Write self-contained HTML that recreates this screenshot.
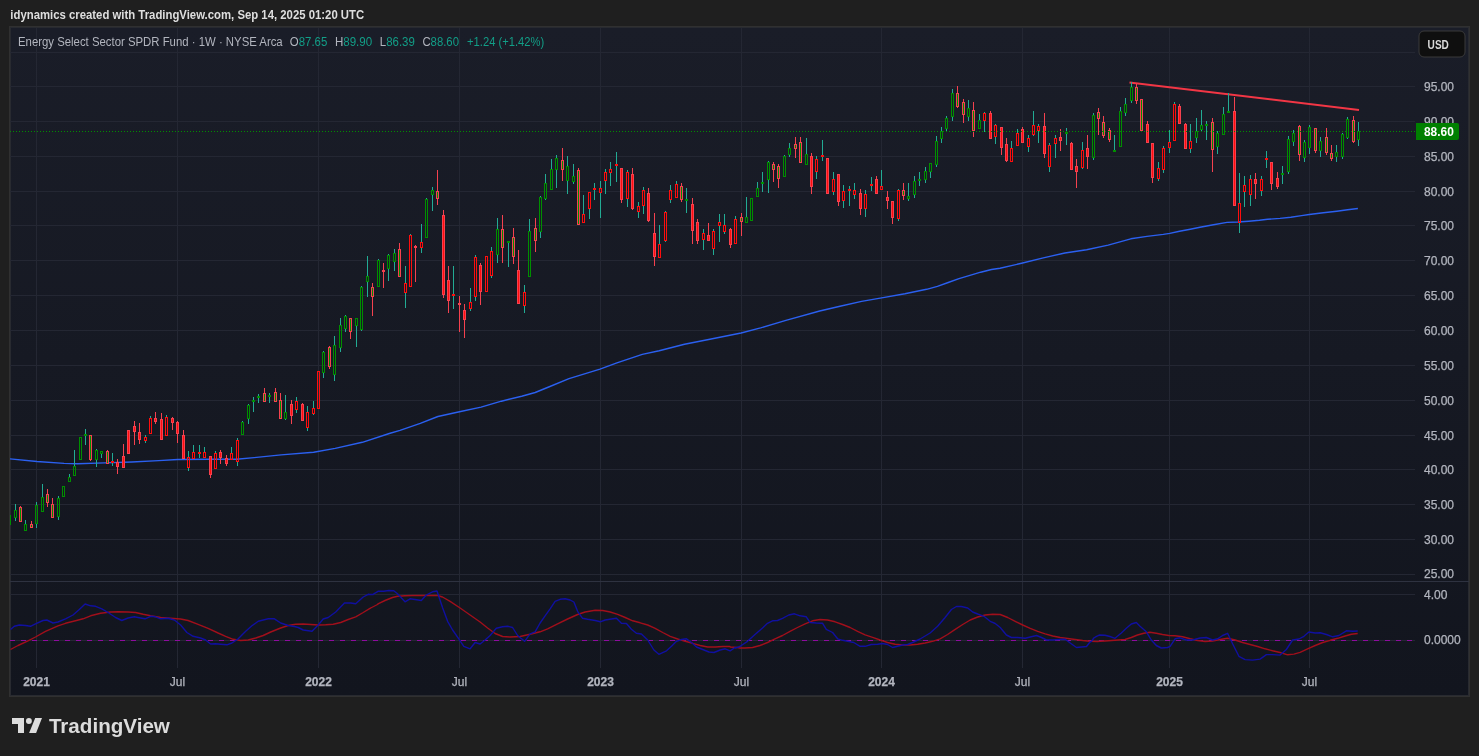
<!DOCTYPE html>
<html><head><meta charset="utf-8"><style>
html,body{margin:0;padding:0;}
body{width:1479px;height:756px;background:#1f1f1f;position:relative;overflow:hidden;font-family:"Liberation Sans",Arial,sans-serif;}
svg{position:absolute;left:0;top:0;will-change:transform;}
</style></head><body>
<svg width="1479" height="756" viewBox="0 0 1479 756" font-family="Liberation Sans, Arial, sans-serif">
<defs><linearGradient id="bgg" x1="0" y1="0" x2="0" y2="1"><stop offset="0" stop-color="#1a1d28"/><stop offset="1" stop-color="#12151e"/></linearGradient></defs>
<rect x="9" y="26" width="1461" height="671" fill="#303030"/>
<rect x="10" y="28" width="1458" height="667" fill="url(#bgg)"/>
<rect x="10" y="27" width="1458" height="1" fill="#282a30"/>
<rect x="10" y="695" width="1458" height="1" fill="#282a30"/>
<rect x="1468" y="27" width="1" height="669" fill="#282a30"/>
<rect x="10" y="27" width="1" height="669" fill="#282a30"/>
<defs><clipPath id="cp"><rect x="10" y="28" width="1405" height="553"/></clipPath>
<clipPath id="cp2"><rect x="10" y="582" width="1405" height="86"/></clipPath></defs>
<g clip-path="url(#cp)">
<line x1="36.5" y1="27" x2="36.5" y2="581" stroke="#242733"/>
<line x1="177.5" y1="27" x2="177.5" y2="581" stroke="#242733"/>
<line x1="318.5" y1="27" x2="318.5" y2="581" stroke="#242733"/>
<line x1="459.5" y1="27" x2="459.5" y2="581" stroke="#242733"/>
<line x1="600.5" y1="27" x2="600.5" y2="581" stroke="#242733"/>
<line x1="741.5" y1="27" x2="741.5" y2="581" stroke="#242733"/>
<line x1="881.5" y1="27" x2="881.5" y2="581" stroke="#242733"/>
<line x1="1022.5" y1="27" x2="1022.5" y2="581" stroke="#242733"/>
<line x1="1169.5" y1="27" x2="1169.5" y2="581" stroke="#242733"/>
<line x1="1309.5" y1="27" x2="1309.5" y2="581" stroke="#242733"/>
<line x1="10" y1="574.5" x2="1415" y2="574.5" stroke="#242733"/>
<line x1="10" y1="539.5" x2="1415" y2="539.5" stroke="#242733"/>
<line x1="10" y1="504.5" x2="1415" y2="504.5" stroke="#242733"/>
<line x1="10" y1="469.5" x2="1415" y2="469.5" stroke="#242733"/>
<line x1="10" y1="435.5" x2="1415" y2="435.5" stroke="#242733"/>
<line x1="10" y1="400.5" x2="1415" y2="400.5" stroke="#242733"/>
<line x1="10" y1="365.5" x2="1415" y2="365.5" stroke="#242733"/>
<line x1="10" y1="330.5" x2="1415" y2="330.5" stroke="#242733"/>
<line x1="10" y1="295.5" x2="1415" y2="295.5" stroke="#242733"/>
<line x1="10" y1="260.5" x2="1415" y2="260.5" stroke="#242733"/>
<line x1="10" y1="225.5" x2="1415" y2="225.5" stroke="#242733"/>
<line x1="10" y1="191.5" x2="1415" y2="191.5" stroke="#242733"/>
<line x1="10" y1="156.5" x2="1415" y2="156.5" stroke="#242733"/>
<line x1="10" y1="121.5" x2="1415" y2="121.5" stroke="#242733"/>
<line x1="10" y1="86.5" x2="1415" y2="86.5" stroke="#242733"/>
<line x1="10" y1="52.5" x2="1415" y2="52.5" stroke="#242733"/>
<polyline points="10.0,458.9 37.0,461.5 64.1,463.4 77.6,463.7 104.7,462.9 131.7,462.0 158.7,460.6 177.7,459.5 210.0,459.2 236.5,459.2 254.1,457.6 281.1,454.9 313.6,452.2 335.2,448.4 362.3,442.3 389.3,433.5 400.0,430.3 420.3,423.3 437.9,416.5 459.5,411.8 481.1,407.1 501.4,401.2 521.7,396.2 535.2,392.5 548.7,387.0 569.0,378.7 600.0,369.1 616.9,362.9 642.3,354.4 659.2,350.7 684.5,344.3 709.9,339.2 741.1,333.0 760.6,327.9 785.9,320.3 819.7,311.0 840.0,306.3 861.6,301.4 881.7,297.9 904.9,293.8 926.6,289.3 937.4,286.3 948.2,282.5 959.0,278.7 969.9,275.4 980.7,272.2 991.5,269.5 1000.0,268.2 1021.6,263.3 1043.3,257.9 1064.9,253.0 1086.6,249.8 1108.2,245.1 1130.8,238.8 1147.0,236.4 1163.3,234.4 1169.8,233.4 1179.5,231.2 1190.3,229.2 1200.0,227.3 1213.5,224.7 1227.0,222.4 1237.9,222.0 1248.7,221.2 1259.5,220.3 1267.6,219.3 1280.0,218.4 1290.8,217.2 1301.6,215.6 1309.2,214.5 1323.3,212.8 1336.8,211.2 1347.6,209.7 1357.9,208.5" fill="none" stroke="#2b60f0" stroke-width="1.4" stroke-linejoin="round"/>
<line x1="1129.5" y1="82.5" x2="1359" y2="110" stroke="#f23645" stroke-width="2.0" stroke-linecap="butt"/>
<g shape-rendering="crispEdges"><rect x="9" y="513" width="1" height="2" fill="#22ab94"/><rect x="9" y="525" width="1" height="1" fill="#22ab94"/><rect x="8.5" y="515.5" width="2" height="9" fill="none" stroke="#008f00"/><rect x="15" y="504" width="1" height="6" fill="#22ab94"/><rect x="15" y="518" width="1" height="3" fill="#22ab94"/><rect x="14.5" y="510.5" width="2" height="7" fill="none" stroke="#008f00"/><rect x="20" y="506" width="1" height="1" fill="#f5414f"/><rect x="19" y="507" width="3" height="15" fill="#f5414f"/><rect x="20" y="508" width="1" height="13" fill="#008f00"/><rect x="25" y="520" width="1" height="4" fill="#22ab94"/><rect x="24.5" y="524.5" width="2" height="6" fill="none" stroke="#008f00"/><rect x="31" y="521" width="1" height="3" fill="#f5414f"/><rect x="30" y="524" width="3" height="4" fill="#f5414f"/><rect x="31" y="525" width="1" height="2" fill="#008f00"/><rect x="36" y="502" width="1" height="3" fill="#22ab94"/><rect x="36" y="524" width="1" height="4" fill="#22ab94"/><rect x="35.5" y="505.5" width="2" height="18" fill="none" stroke="#008f00"/><rect x="42" y="484" width="1" height="13" fill="#22ab94"/><rect x="41.5" y="497.5" width="2" height="14" fill="none" stroke="#008f00"/><rect x="47" y="489" width="1" height="5" fill="#f5414f"/><rect x="47" y="503" width="1" height="4" fill="#f5414f"/><rect x="46" y="494" width="3" height="9" fill="#f5414f"/><rect x="47" y="495" width="1" height="7" fill="#008f00"/><rect x="52" y="498" width="1" height="6" fill="#f5414f"/><rect x="51" y="504" width="3" height="14" fill="#f5414f"/><rect x="52" y="505" width="1" height="12" fill="#008f00"/><rect x="58" y="496" width="1" height="2" fill="#22ab94"/><rect x="58" y="517" width="1" height="3" fill="#22ab94"/><rect x="57.5" y="498.5" width="2" height="18" fill="none" stroke="#008f00"/><rect x="62.5" y="486.5" width="2" height="10" fill="none" stroke="#008f00"/><rect x="69" y="474" width="1" height="3" fill="#22ab94"/><rect x="68.5" y="477.5" width="2" height="4" fill="none" stroke="#008f00"/><rect x="74" y="450" width="1" height="16" fill="#22ab94"/><rect x="73.5" y="466.5" width="2" height="9" fill="none" stroke="#008f00"/><rect x="79.5" y="437.5" width="2" height="22" fill="none" stroke="#008f00"/><rect x="85" y="429" width="1" height="5" fill="#22ab94"/><rect x="85" y="436" width="1" height="9" fill="#22ab94"/><rect x="84" y="434" width="3" height="2" fill="#008f00"/><rect x="90" y="460" width="1" height="1" fill="#f5414f"/><rect x="89" y="435" width="3" height="25" fill="#f5414f"/><rect x="90" y="436" width="1" height="23" fill="#008f00"/><rect x="96" y="449" width="1" height="1" fill="#22ab94"/><rect x="96" y="460" width="1" height="7" fill="#22ab94"/><rect x="95.5" y="450.5" width="2" height="9" fill="none" stroke="#008f00"/><rect x="101" y="454" width="1" height="4" fill="#22ab94"/><rect x="100.5" y="451.5" width="2" height="2" fill="none" stroke="#008f00"/><rect x="107" y="450" width="1" height="1" fill="#f5414f"/><rect x="106" y="451" width="3" height="13" fill="#f5414f"/><rect x="107" y="452" width="1" height="11" fill="#008f00"/><rect x="112" y="453" width="1" height="8" fill="#22ab94"/><rect x="112" y="463" width="1" height="3" fill="#22ab94"/><rect x="111" y="461" width="3" height="2" fill="#ff0d0d"/><rect x="117" y="459" width="1" height="3" fill="#f5414f"/><rect x="117" y="467" width="1" height="7" fill="#f5414f"/><rect x="116" y="462" width="3" height="5" fill="#f5414f"/><rect x="117" y="463" width="1" height="3" fill="#ff0d0d"/><rect x="123" y="444" width="1" height="12" fill="#f5414f"/><rect x="122" y="456" width="3" height="12" fill="#f5414f"/><rect x="123" y="457" width="1" height="10" fill="#ff0d0d"/><rect x="127" y="430" width="3" height="24" fill="#f5414f"/><rect x="128" y="431" width="1" height="22" fill="#ff0d0d"/><rect x="134" y="421" width="1" height="5" fill="#f5414f"/><rect x="134" y="432" width="1" height="13" fill="#f5414f"/><rect x="133" y="426" width="3" height="6" fill="#f5414f"/><rect x="134" y="427" width="1" height="4" fill="#ff0d0d"/><rect x="139" y="423" width="1" height="9" fill="#f5414f"/><rect x="139" y="440" width="1" height="4" fill="#f5414f"/><rect x="138" y="432" width="3" height="8" fill="#f5414f"/><rect x="139" y="433" width="1" height="6" fill="#ff0d0d"/><rect x="145" y="435" width="1" height="2" fill="#22ab94"/><rect x="145" y="441" width="1" height="2" fill="#22ab94"/><rect x="144.5" y="437.5" width="2" height="3" fill="none" stroke="#ff0d0d"/><rect x="150" y="416" width="1" height="2" fill="#22ab94"/><rect x="149.5" y="418.5" width="2" height="15" fill="none" stroke="#ff0d0d"/><rect x="155" y="412" width="1" height="6" fill="#f5414f"/><rect x="155" y="422" width="1" height="2" fill="#f5414f"/><rect x="154" y="418" width="3" height="4" fill="#f5414f"/><rect x="155" y="419" width="1" height="2" fill="#ff0d0d"/><rect x="161" y="413" width="1" height="6" fill="#f5414f"/><rect x="160" y="419" width="3" height="21" fill="#f5414f"/><rect x="161" y="420" width="1" height="19" fill="#ff0d0d"/><rect x="166" y="415" width="1" height="2" fill="#22ab94"/><rect x="165.5" y="417.5" width="2" height="18" fill="none" stroke="#ff0d0d"/><rect x="172" y="417" width="1" height="1" fill="#f5414f"/><rect x="172" y="423" width="1" height="7" fill="#f5414f"/><rect x="171" y="418" width="3" height="5" fill="#f5414f"/><rect x="172" y="419" width="1" height="3" fill="#ff0d0d"/><rect x="177" y="421" width="1" height="1" fill="#f5414f"/><rect x="177" y="434" width="1" height="9" fill="#f5414f"/><rect x="176" y="422" width="3" height="12" fill="#f5414f"/><rect x="177" y="423" width="1" height="10" fill="#ff0d0d"/><rect x="183" y="430" width="1" height="5" fill="#f5414f"/><rect x="182" y="435" width="3" height="24" fill="#f5414f"/><rect x="183" y="436" width="1" height="22" fill="#ff0d0d"/><rect x="188" y="451" width="1" height="6" fill="#22ab94"/><rect x="188" y="468" width="1" height="3" fill="#22ab94"/><rect x="187.5" y="457.5" width="2" height="10" fill="none" stroke="#ff0d0d"/><rect x="193" y="445" width="1" height="7" fill="#22ab94"/><rect x="192.5" y="452.5" width="2" height="6" fill="none" stroke="#ff0d0d"/><rect x="199" y="445" width="1" height="7" fill="#22ab94"/><rect x="199" y="454" width="1" height="4" fill="#22ab94"/><rect x="198" y="452" width="3" height="2" fill="#ff0d0d"/><rect x="204" y="447" width="1" height="5" fill="#22ab94"/><rect x="203.5" y="452.5" width="2" height="5" fill="none" stroke="#ff0d0d"/><rect x="210" y="475" width="1" height="3" fill="#f5414f"/><rect x="209" y="456" width="3" height="19" fill="#f5414f"/><rect x="210" y="457" width="1" height="17" fill="#ff0d0d"/><rect x="215" y="451" width="1" height="2" fill="#22ab94"/><rect x="214.5" y="453.5" width="2" height="15" fill="none" stroke="#ff0d0d"/><rect x="220" y="450" width="1" height="2" fill="#f5414f"/><rect x="220" y="458" width="1" height="6" fill="#f5414f"/><rect x="219" y="452" width="3" height="6" fill="#f5414f"/><rect x="220" y="453" width="1" height="4" fill="#ff0d0d"/><rect x="226" y="455" width="1" height="3" fill="#f5414f"/><rect x="226" y="464" width="1" height="2" fill="#f5414f"/><rect x="225" y="458" width="3" height="6" fill="#f5414f"/><rect x="226" y="459" width="1" height="4" fill="#ff0d0d"/><rect x="231" y="447" width="1" height="6" fill="#22ab94"/><rect x="230.5" y="453.5" width="2" height="6" fill="none" stroke="#ff0d0d"/><rect x="237" y="438" width="1" height="2" fill="#22ab94"/><rect x="237" y="462" width="1" height="4" fill="#22ab94"/><rect x="236.5" y="440.5" width="2" height="21" fill="none" stroke="#ff0d0d"/><rect x="242" y="421" width="1" height="1" fill="#22ab94"/><rect x="241.5" y="422.5" width="2" height="12" fill="none" stroke="#008f00"/><rect x="248" y="404" width="1" height="1" fill="#22ab94"/><rect x="248" y="419" width="1" height="5" fill="#22ab94"/><rect x="247.5" y="405.5" width="2" height="13" fill="none" stroke="#008f00"/><rect x="253" y="397" width="1" height="3" fill="#22ab94"/><rect x="253" y="402" width="1" height="10" fill="#22ab94"/><rect x="252" y="400" width="3" height="2" fill="#008f00"/><rect x="258" y="394" width="1" height="2" fill="#22ab94"/><rect x="258" y="398" width="1" height="5" fill="#22ab94"/><rect x="257" y="396" width="3" height="2" fill="#008f00"/><rect x="264" y="388" width="1" height="5" fill="#f5414f"/><rect x="263" y="393" width="3" height="9" fill="#f5414f"/><rect x="264" y="394" width="1" height="7" fill="#008f00"/><rect x="269" y="393" width="1" height="2" fill="#22ab94"/><rect x="269" y="397" width="1" height="6" fill="#22ab94"/><rect x="268" y="395" width="3" height="2" fill="#008f00"/><rect x="275" y="388" width="1" height="4" fill="#f5414f"/><rect x="274" y="392" width="3" height="10" fill="#f5414f"/><rect x="275" y="393" width="1" height="8" fill="#008f00"/><rect x="280" y="393" width="1" height="7" fill="#f5414f"/><rect x="279" y="400" width="3" height="19" fill="#f5414f"/><rect x="280" y="401" width="1" height="17" fill="#008f00"/><rect x="285" y="395" width="1" height="17" fill="#22ab94"/><rect x="285" y="419" width="1" height="1" fill="#22ab94"/><rect x="284.5" y="412.5" width="2" height="6" fill="none" stroke="#008f00"/><rect x="291" y="400" width="1" height="4" fill="#f5414f"/><rect x="291" y="416" width="1" height="8" fill="#f5414f"/><rect x="290" y="404" width="3" height="12" fill="#f5414f"/><rect x="291" y="405" width="1" height="10" fill="#ff0d0d"/><rect x="296" y="397" width="1" height="4" fill="#22ab94"/><rect x="296" y="410" width="1" height="3" fill="#22ab94"/><rect x="295.5" y="401.5" width="2" height="8" fill="none" stroke="#ff0d0d"/><rect x="302" y="403" width="1" height="1" fill="#f5414f"/><rect x="301" y="404" width="3" height="17" fill="#f5414f"/><rect x="302" y="405" width="1" height="15" fill="#ff0d0d"/><rect x="307" y="406" width="1" height="6" fill="#22ab94"/><rect x="307" y="428" width="1" height="3" fill="#22ab94"/><rect x="306.5" y="412.5" width="2" height="15" fill="none" stroke="#ff0d0d"/><rect x="313" y="401" width="1" height="7" fill="#22ab94"/><rect x="313" y="414" width="1" height="1" fill="#22ab94"/><rect x="312.5" y="408.5" width="2" height="5" fill="none" stroke="#ff0d0d"/><rect x="317.5" y="371.5" width="2" height="37" fill="none" stroke="#ff0d0d"/><rect x="323" y="351" width="1" height="1" fill="#22ab94"/><rect x="323" y="373" width="1" height="5" fill="#22ab94"/><rect x="322.5" y="352.5" width="2" height="20" fill="none" stroke="#008f00"/><rect x="329" y="346" width="1" height="1" fill="#f5414f"/><rect x="329" y="367" width="1" height="2" fill="#f5414f"/><rect x="328" y="347" width="3" height="20" fill="#f5414f"/><rect x="329" y="348" width="1" height="18" fill="#008f00"/><rect x="334" y="336" width="1" height="9" fill="#22ab94"/><rect x="334" y="375" width="1" height="6" fill="#22ab94"/><rect x="333.5" y="345.5" width="2" height="29" fill="none" stroke="#008f00"/><rect x="340" y="318" width="1" height="7" fill="#22ab94"/><rect x="340" y="348" width="1" height="4" fill="#22ab94"/><rect x="339.5" y="325.5" width="2" height="22" fill="none" stroke="#008f00"/><rect x="345" y="315" width="1" height="1" fill="#22ab94"/><rect x="345" y="329" width="1" height="3" fill="#22ab94"/><rect x="344.5" y="316.5" width="2" height="12" fill="none" stroke="#008f00"/><rect x="350" y="332" width="1" height="7" fill="#f5414f"/><rect x="349" y="318" width="3" height="14" fill="#f5414f"/><rect x="350" y="319" width="1" height="12" fill="#008f00"/><rect x="356" y="326" width="1" height="21" fill="#22ab94"/><rect x="355.5" y="318.5" width="2" height="7" fill="none" stroke="#008f00"/><rect x="361" y="286" width="1" height="1" fill="#22ab94"/><rect x="361" y="330" width="1" height="1" fill="#22ab94"/><rect x="360.5" y="287.5" width="2" height="42" fill="none" stroke="#008f00"/><rect x="367" y="256" width="1" height="20" fill="#22ab94"/><rect x="367" y="282" width="1" height="15" fill="#22ab94"/><rect x="366.5" y="276.5" width="2" height="5" fill="none" stroke="#008f00"/><rect x="372" y="283" width="1" height="4" fill="#f5414f"/><rect x="372" y="297" width="1" height="19" fill="#f5414f"/><rect x="371" y="287" width="3" height="10" fill="#f5414f"/><rect x="372" y="288" width="1" height="8" fill="#008f00"/><rect x="378" y="259" width="1" height="1" fill="#22ab94"/><rect x="377.5" y="260.5" width="2" height="26" fill="none" stroke="#008f00"/><rect x="383" y="263" width="1" height="7" fill="#f5414f"/><rect x="383" y="272" width="1" height="16" fill="#f5414f"/><rect x="382" y="270" width="3" height="2" fill="#f5414f"/><rect x="388" y="254" width="1" height="1" fill="#22ab94"/><rect x="388" y="269" width="1" height="12" fill="#22ab94"/><rect x="387.5" y="255.5" width="2" height="13" fill="none" stroke="#008f00"/><rect x="394" y="249" width="1" height="4" fill="#22ab94"/><rect x="394" y="262" width="1" height="9" fill="#22ab94"/><rect x="393.5" y="253.5" width="2" height="8" fill="none" stroke="#008f00"/><rect x="399" y="243" width="1" height="6" fill="#f5414f"/><rect x="398" y="249" width="3" height="28" fill="#f5414f"/><rect x="399" y="250" width="1" height="26" fill="#008f00"/><rect x="405" y="266" width="1" height="17" fill="#22ab94"/><rect x="405" y="293" width="1" height="15" fill="#22ab94"/><rect x="404.5" y="283.5" width="2" height="9" fill="none" stroke="#ff0d0d"/><rect x="410" y="234" width="1" height="1" fill="#22ab94"/><rect x="409.5" y="235.5" width="2" height="51" fill="none" stroke="#ff0d0d"/><rect x="415" y="245" width="1" height="1" fill="#f5414f"/><rect x="415" y="248" width="1" height="34" fill="#f5414f"/><rect x="414" y="246" width="3" height="2" fill="#f5414f"/><rect x="421" y="224" width="1" height="18" fill="#22ab94"/><rect x="421" y="248" width="1" height="5" fill="#22ab94"/><rect x="420.5" y="242.5" width="2" height="5" fill="none" stroke="#ff0d0d"/><rect x="426" y="198" width="1" height="1" fill="#22ab94"/><rect x="425.5" y="199.5" width="2" height="38" fill="none" stroke="#008f00"/><rect x="432" y="187" width="1" height="3" fill="#22ab94"/><rect x="432" y="195" width="1" height="16" fill="#22ab94"/><rect x="431.5" y="190.5" width="2" height="4" fill="none" stroke="#008f00"/><rect x="437" y="170" width="1" height="21" fill="#f5414f"/><rect x="437" y="199" width="1" height="6" fill="#f5414f"/><rect x="436" y="191" width="3" height="8" fill="#f5414f"/><rect x="437" y="192" width="1" height="6" fill="#008f00"/><rect x="443" y="210" width="1" height="5" fill="#f5414f"/><rect x="443" y="295" width="1" height="3" fill="#f5414f"/><rect x="442" y="215" width="3" height="80" fill="#f5414f"/><rect x="443" y="216" width="1" height="78" fill="#ff0d0d"/><rect x="448" y="266" width="1" height="14" fill="#f5414f"/><rect x="448" y="301" width="1" height="12" fill="#f5414f"/><rect x="447" y="280" width="3" height="21" fill="#f5414f"/><rect x="448" y="281" width="1" height="19" fill="#ff0d0d"/><rect x="453" y="266" width="1" height="28" fill="#22ab94"/><rect x="453" y="296" width="1" height="13" fill="#22ab94"/><rect x="452" y="294" width="3" height="2" fill="#ff0d0d"/><rect x="459" y="296" width="1" height="7" fill="#f5414f"/><rect x="459" y="305" width="1" height="27" fill="#f5414f"/><rect x="458" y="303" width="3" height="2" fill="#f5414f"/><rect x="464" y="304" width="1" height="6" fill="#f5414f"/><rect x="464" y="320" width="1" height="18" fill="#f5414f"/><rect x="463" y="310" width="3" height="10" fill="#f5414f"/><rect x="464" y="311" width="1" height="8" fill="#ff0d0d"/><rect x="470" y="288" width="1" height="14" fill="#22ab94"/><rect x="470" y="309" width="1" height="2" fill="#22ab94"/><rect x="469.5" y="302.5" width="2" height="6" fill="none" stroke="#ff0d0d"/><rect x="475" y="255" width="1" height="2" fill="#22ab94"/><rect x="475" y="297" width="1" height="4" fill="#22ab94"/><rect x="474.5" y="257.5" width="2" height="39" fill="none" stroke="#ff0d0d"/><rect x="480" y="263" width="1" height="2" fill="#f5414f"/><rect x="480" y="292" width="1" height="13" fill="#f5414f"/><rect x="479" y="265" width="3" height="27" fill="#f5414f"/><rect x="480" y="266" width="1" height="25" fill="#ff0d0d"/><rect x="485.5" y="256.5" width="2" height="35" fill="none" stroke="#ff0d0d"/><rect x="491" y="247" width="1" height="4" fill="#22ab94"/><rect x="491" y="276" width="1" height="2" fill="#22ab94"/><rect x="490.5" y="251.5" width="2" height="24" fill="none" stroke="#ff0d0d"/><rect x="497" y="218" width="1" height="11" fill="#22ab94"/><rect x="497" y="255" width="1" height="8" fill="#22ab94"/><rect x="496.5" y="229.5" width="2" height="25" fill="none" stroke="#008f00"/><rect x="502" y="215" width="1" height="14" fill="#f5414f"/><rect x="502" y="248" width="1" height="15" fill="#f5414f"/><rect x="501" y="229" width="3" height="19" fill="#f5414f"/><rect x="502" y="230" width="1" height="17" fill="#008f00"/><rect x="508" y="243" width="1" height="24" fill="#22ab94"/><rect x="507" y="241" width="3" height="2" fill="#008f00"/><rect x="513" y="228" width="1" height="9" fill="#f5414f"/><rect x="513" y="257" width="1" height="7" fill="#f5414f"/><rect x="512" y="237" width="3" height="20" fill="#f5414f"/><rect x="513" y="238" width="1" height="18" fill="#008f00"/><rect x="518" y="250" width="1" height="20" fill="#f5414f"/><rect x="517" y="270" width="3" height="34" fill="#f5414f"/><rect x="518" y="271" width="1" height="32" fill="#ff0d0d"/><rect x="524" y="285" width="1" height="7" fill="#22ab94"/><rect x="524" y="306" width="1" height="7" fill="#22ab94"/><rect x="523.5" y="292.5" width="2" height="13" fill="none" stroke="#ff0d0d"/><rect x="529" y="219" width="1" height="12" fill="#22ab94"/><rect x="528.5" y="231.5" width="2" height="45" fill="none" stroke="#008f00"/><rect x="535" y="218" width="1" height="10" fill="#f5414f"/><rect x="535" y="241" width="1" height="11" fill="#f5414f"/><rect x="534" y="228" width="3" height="13" fill="#f5414f"/><rect x="535" y="229" width="1" height="11" fill="#008f00"/><rect x="540" y="196" width="1" height="1" fill="#22ab94"/><rect x="540" y="232" width="1" height="6" fill="#22ab94"/><rect x="539.5" y="197.5" width="2" height="34" fill="none" stroke="#008f00"/><rect x="545" y="174" width="1" height="9" fill="#22ab94"/><rect x="545" y="199" width="1" height="1" fill="#22ab94"/><rect x="544.5" y="183.5" width="2" height="15" fill="none" stroke="#008f00"/><rect x="551" y="159" width="1" height="10" fill="#22ab94"/><rect x="550.5" y="169.5" width="2" height="20" fill="none" stroke="#008f00"/><rect x="556" y="155" width="1" height="3" fill="#22ab94"/><rect x="556" y="170" width="1" height="18" fill="#22ab94"/><rect x="555.5" y="158.5" width="2" height="11" fill="none" stroke="#008f00"/><rect x="562" y="148" width="1" height="12" fill="#f5414f"/><rect x="562" y="170" width="1" height="11" fill="#f5414f"/><rect x="561" y="160" width="3" height="10" fill="#f5414f"/><rect x="562" y="161" width="1" height="8" fill="#008f00"/><rect x="567" y="156" width="1" height="10" fill="#22ab94"/><rect x="567" y="181" width="1" height="13" fill="#22ab94"/><rect x="566.5" y="166.5" width="2" height="14" fill="none" stroke="#008f00"/><rect x="573" y="164" width="1" height="12" fill="#22ab94"/><rect x="573" y="182" width="1" height="2" fill="#22ab94"/><rect x="572.5" y="176.5" width="2" height="5" fill="none" stroke="#008f00"/><rect x="578" y="168" width="1" height="2" fill="#f5414f"/><rect x="577" y="170" width="3" height="55" fill="#f5414f"/><rect x="578" y="171" width="1" height="53" fill="#008f00"/><rect x="583" y="195" width="1" height="19" fill="#22ab94"/><rect x="582.5" y="214.5" width="2" height="8" fill="none" stroke="#ff0d0d"/><rect x="589" y="209" width="1" height="10" fill="#22ab94"/><rect x="588.5" y="192.5" width="2" height="16" fill="none" stroke="#ff0d0d"/><rect x="594" y="183" width="1" height="5" fill="#22ab94"/><rect x="594" y="190" width="1" height="10" fill="#22ab94"/><rect x="593" y="188" width="3" height="2" fill="#ff0d0d"/><rect x="600" y="181" width="1" height="7" fill="#22ab94"/><rect x="600" y="193" width="1" height="25" fill="#22ab94"/><rect x="599.5" y="188.5" width="2" height="4" fill="none" stroke="#ff0d0d"/><rect x="605" y="169" width="1" height="3" fill="#22ab94"/><rect x="605" y="181" width="1" height="13" fill="#22ab94"/><rect x="604.5" y="172.5" width="2" height="8" fill="none" stroke="#ff0d0d"/><rect x="610" y="162" width="1" height="7" fill="#22ab94"/><rect x="610" y="173" width="1" height="13" fill="#22ab94"/><rect x="609.5" y="169.5" width="2" height="3" fill="none" stroke="#ff0d0d"/><rect x="616" y="152" width="1" height="12" fill="#22ab94"/><rect x="616" y="166" width="1" height="16" fill="#22ab94"/><rect x="615" y="164" width="3" height="2" fill="#ff0d0d"/><rect x="621" y="200" width="1" height="3" fill="#f5414f"/><rect x="620" y="168" width="3" height="32" fill="#f5414f"/><rect x="621" y="169" width="1" height="30" fill="#ff0d0d"/><rect x="627" y="170" width="1" height="2" fill="#22ab94"/><rect x="627" y="199" width="1" height="8" fill="#22ab94"/><rect x="626.5" y="172.5" width="2" height="26" fill="none" stroke="#ff0d0d"/><rect x="632" y="168" width="1" height="6" fill="#f5414f"/><rect x="632" y="209" width="1" height="1" fill="#f5414f"/><rect x="631" y="174" width="3" height="35" fill="#f5414f"/><rect x="632" y="175" width="1" height="33" fill="#ff0d0d"/><rect x="638" y="202" width="1" height="4" fill="#22ab94"/><rect x="638" y="212" width="1" height="6" fill="#22ab94"/><rect x="637.5" y="206.5" width="2" height="5" fill="none" stroke="#ff0d0d"/><rect x="643" y="187" width="1" height="3" fill="#22ab94"/><rect x="643" y="206" width="1" height="8" fill="#22ab94"/><rect x="642.5" y="190.5" width="2" height="15" fill="none" stroke="#ff0d0d"/><rect x="648" y="188" width="1" height="5" fill="#f5414f"/><rect x="648" y="221" width="1" height="1" fill="#f5414f"/><rect x="647" y="193" width="3" height="28" fill="#f5414f"/><rect x="648" y="194" width="1" height="26" fill="#ff0d0d"/><rect x="654" y="213" width="1" height="20" fill="#f5414f"/><rect x="654" y="257" width="1" height="9" fill="#f5414f"/><rect x="653" y="233" width="3" height="24" fill="#f5414f"/><rect x="654" y="234" width="1" height="22" fill="#ff0d0d"/><rect x="659" y="225" width="1" height="19" fill="#22ab94"/><rect x="658.5" y="244.5" width="2" height="13" fill="none" stroke="#ff0d0d"/><rect x="665" y="211" width="1" height="1" fill="#22ab94"/><rect x="665" y="241" width="1" height="1" fill="#22ab94"/><rect x="664.5" y="212.5" width="2" height="28" fill="none" stroke="#ff0d0d"/><rect x="670" y="185" width="1" height="5" fill="#22ab94"/><rect x="670" y="200" width="1" height="3" fill="#22ab94"/><rect x="669.5" y="190.5" width="2" height="9" fill="none" stroke="#ff0d0d"/><rect x="676" y="181" width="1" height="3" fill="#22ab94"/><rect x="675.5" y="184.5" width="2" height="13" fill="none" stroke="#ff0d0d"/><rect x="681" y="183" width="1" height="3" fill="#f5414f"/><rect x="681" y="200" width="1" height="2" fill="#f5414f"/><rect x="680" y="186" width="3" height="14" fill="#f5414f"/><rect x="681" y="187" width="1" height="12" fill="#008f00"/><rect x="686" y="188" width="1" height="11" fill="#22ab94"/><rect x="686" y="201" width="1" height="12" fill="#22ab94"/><rect x="685" y="199" width="3" height="2" fill="#008f00"/><rect x="692" y="198" width="1" height="6" fill="#f5414f"/><rect x="692" y="231" width="1" height="13" fill="#f5414f"/><rect x="691" y="204" width="3" height="27" fill="#f5414f"/><rect x="692" y="205" width="1" height="25" fill="#ff0d0d"/><rect x="697" y="219" width="1" height="3" fill="#f5414f"/><rect x="697" y="241" width="1" height="3" fill="#f5414f"/><rect x="696" y="222" width="3" height="19" fill="#f5414f"/><rect x="697" y="223" width="1" height="17" fill="#ff0d0d"/><rect x="703" y="229" width="1" height="4" fill="#22ab94"/><rect x="703" y="240" width="1" height="10" fill="#22ab94"/><rect x="702.5" y="233.5" width="2" height="6" fill="none" stroke="#ff0d0d"/><rect x="708" y="223" width="1" height="12" fill="#f5414f"/><rect x="707" y="235" width="3" height="6" fill="#f5414f"/><rect x="708" y="236" width="1" height="4" fill="#ff0d0d"/><rect x="713" y="229" width="1" height="2" fill="#22ab94"/><rect x="713" y="249" width="1" height="6" fill="#22ab94"/><rect x="712.5" y="231.5" width="2" height="17" fill="none" stroke="#ff0d0d"/><rect x="719" y="214" width="1" height="8" fill="#22ab94"/><rect x="719" y="226" width="1" height="16" fill="#22ab94"/><rect x="718.5" y="222.5" width="2" height="3" fill="none" stroke="#ff0d0d"/><rect x="724" y="214" width="1" height="11" fill="#22ab94"/><rect x="724" y="232" width="1" height="2" fill="#22ab94"/><rect x="723.5" y="225.5" width="2" height="6" fill="none" stroke="#ff0d0d"/><rect x="730" y="228" width="1" height="1" fill="#f5414f"/><rect x="730" y="245" width="1" height="3" fill="#f5414f"/><rect x="729" y="229" width="3" height="16" fill="#f5414f"/><rect x="730" y="230" width="1" height="14" fill="#ff0d0d"/><rect x="735" y="216" width="1" height="3" fill="#22ab94"/><rect x="734.5" y="219.5" width="2" height="24" fill="none" stroke="#ff0d0d"/><rect x="741" y="213" width="1" height="4" fill="#f5414f"/><rect x="741" y="222" width="1" height="14" fill="#f5414f"/><rect x="740" y="217" width="3" height="5" fill="#f5414f"/><rect x="741" y="218" width="1" height="3" fill="#008f00"/><rect x="746" y="197" width="1" height="20" fill="#22ab94"/><rect x="745.5" y="217.5" width="2" height="5" fill="none" stroke="#008f00"/><rect x="750.5" y="198.5" width="2" height="22" fill="none" stroke="#008f00"/><rect x="757" y="182" width="1" height="6" fill="#22ab94"/><rect x="756.5" y="188.5" width="2" height="8" fill="none" stroke="#008f00"/><rect x="762" y="172" width="1" height="10" fill="#22ab94"/><rect x="762" y="184" width="1" height="8" fill="#22ab94"/><rect x="761" y="182" width="3" height="2" fill="#008f00"/><rect x="768" y="161" width="1" height="1" fill="#22ab94"/><rect x="768" y="180" width="1" height="13" fill="#22ab94"/><rect x="767.5" y="162.5" width="2" height="17" fill="none" stroke="#008f00"/><rect x="773" y="162" width="1" height="2" fill="#f5414f"/><rect x="773" y="170" width="1" height="12" fill="#f5414f"/><rect x="772" y="164" width="3" height="6" fill="#f5414f"/><rect x="773" y="165" width="1" height="4" fill="#008f00"/><rect x="778" y="164" width="1" height="2" fill="#f5414f"/><rect x="778" y="179" width="1" height="9" fill="#f5414f"/><rect x="777" y="166" width="3" height="13" fill="#f5414f"/><rect x="778" y="167" width="1" height="11" fill="#008f00"/><rect x="784" y="155" width="1" height="1" fill="#22ab94"/><rect x="783.5" y="156.5" width="2" height="20" fill="none" stroke="#008f00"/><rect x="789" y="143" width="1" height="5" fill="#22ab94"/><rect x="789" y="155" width="1" height="2" fill="#22ab94"/><rect x="788.5" y="148.5" width="2" height="6" fill="none" stroke="#008f00"/><rect x="795" y="137" width="1" height="7" fill="#f5414f"/><rect x="795" y="149" width="1" height="9" fill="#f5414f"/><rect x="794" y="144" width="3" height="5" fill="#f5414f"/><rect x="795" y="145" width="1" height="3" fill="#008f00"/><rect x="800" y="137" width="1" height="5" fill="#f5414f"/><rect x="799" y="142" width="3" height="21" fill="#f5414f"/><rect x="800" y="143" width="1" height="19" fill="#008f00"/><rect x="806" y="138" width="1" height="16" fill="#22ab94"/><rect x="805.5" y="154.5" width="2" height="10" fill="none" stroke="#008f00"/><rect x="811" y="153" width="1" height="3" fill="#f5414f"/><rect x="811" y="187" width="1" height="7" fill="#f5414f"/><rect x="810" y="156" width="3" height="31" fill="#f5414f"/><rect x="811" y="157" width="1" height="29" fill="#ff0d0d"/><rect x="816" y="156" width="1" height="3" fill="#22ab94"/><rect x="816" y="172" width="1" height="7" fill="#22ab94"/><rect x="815.5" y="159.5" width="2" height="12" fill="none" stroke="#ff0d0d"/><rect x="822" y="140" width="1" height="15" fill="#22ab94"/><rect x="822" y="157" width="1" height="4" fill="#22ab94"/><rect x="821" y="155" width="3" height="2" fill="#ff0d0d"/><rect x="826" y="158" width="3" height="36" fill="#f5414f"/><rect x="827" y="159" width="1" height="34" fill="#ff0d0d"/><rect x="833" y="172" width="1" height="7" fill="#22ab94"/><rect x="833" y="192" width="1" height="3" fill="#22ab94"/><rect x="832.5" y="179.5" width="2" height="12" fill="none" stroke="#ff0d0d"/><rect x="838" y="202" width="1" height="4" fill="#f5414f"/><rect x="837" y="174" width="3" height="28" fill="#f5414f"/><rect x="838" y="175" width="1" height="26" fill="#ff0d0d"/><rect x="843" y="185" width="1" height="6" fill="#22ab94"/><rect x="843" y="201" width="1" height="7" fill="#22ab94"/><rect x="842.5" y="191.5" width="2" height="9" fill="none" stroke="#ff0d0d"/><rect x="849" y="186" width="1" height="3" fill="#22ab94"/><rect x="849" y="191" width="1" height="15" fill="#22ab94"/><rect x="848" y="189" width="3" height="2" fill="#ff0d0d"/><rect x="854" y="183" width="1" height="7" fill="#22ab94"/><rect x="854" y="195" width="1" height="4" fill="#22ab94"/><rect x="853.5" y="190.5" width="2" height="4" fill="none" stroke="#ff0d0d"/><rect x="860" y="189" width="1" height="4" fill="#f5414f"/><rect x="860" y="209" width="1" height="6" fill="#f5414f"/><rect x="859" y="193" width="3" height="16" fill="#f5414f"/><rect x="860" y="194" width="1" height="14" fill="#ff0d0d"/><rect x="865" y="190" width="1" height="4" fill="#22ab94"/><rect x="865" y="209" width="1" height="8" fill="#22ab94"/><rect x="864.5" y="194.5" width="2" height="14" fill="none" stroke="#ff0d0d"/><rect x="871" y="177" width="1" height="7" fill="#22ab94"/><rect x="871" y="186" width="1" height="5" fill="#22ab94"/><rect x="870" y="184" width="3" height="2" fill="#ff0d0d"/><rect x="876" y="176" width="1" height="3" fill="#f5414f"/><rect x="875" y="179" width="3" height="15" fill="#f5414f"/><rect x="876" y="180" width="1" height="13" fill="#ff0d0d"/><rect x="881" y="170" width="1" height="16" fill="#22ab94"/><rect x="880.5" y="186.5" width="2" height="3" fill="none" stroke="#ff0d0d"/><rect x="887" y="191" width="1" height="6" fill="#f5414f"/><rect x="887" y="201" width="1" height="8" fill="#f5414f"/><rect x="886" y="197" width="3" height="4" fill="#f5414f"/><rect x="887" y="198" width="1" height="2" fill="#ff0d0d"/><rect x="892" y="218" width="1" height="6" fill="#f5414f"/><rect x="891" y="201" width="3" height="17" fill="#f5414f"/><rect x="892" y="202" width="1" height="15" fill="#ff0d0d"/><rect x="898" y="189" width="1" height="1" fill="#22ab94"/><rect x="898" y="219" width="1" height="2" fill="#22ab94"/><rect x="897.5" y="190.5" width="2" height="28" fill="none" stroke="#ff0d0d"/><rect x="903" y="183" width="1" height="7" fill="#f5414f"/><rect x="903" y="196" width="1" height="4" fill="#f5414f"/><rect x="902" y="190" width="3" height="6" fill="#f5414f"/><rect x="903" y="191" width="1" height="4" fill="#008f00"/><rect x="908" y="183" width="1" height="13" fill="#22ab94"/><rect x="908" y="199" width="1" height="2" fill="#22ab94"/><rect x="907.5" y="196.5" width="2" height="2" fill="none" stroke="#008f00"/><rect x="914" y="176" width="1" height="5" fill="#22ab94"/><rect x="914" y="195" width="1" height="3" fill="#22ab94"/><rect x="913.5" y="181.5" width="2" height="13" fill="none" stroke="#008f00"/><rect x="919" y="172" width="1" height="7" fill="#22ab94"/><rect x="919" y="181" width="1" height="5" fill="#22ab94"/><rect x="918" y="179" width="3" height="2" fill="#008f00"/><rect x="925" y="167" width="1" height="4" fill="#22ab94"/><rect x="925" y="180" width="1" height="3" fill="#22ab94"/><rect x="924.5" y="171.5" width="2" height="8" fill="none" stroke="#008f00"/><rect x="930" y="172" width="1" height="6" fill="#22ab94"/><rect x="929.5" y="163.5" width="2" height="8" fill="none" stroke="#008f00"/><rect x="936" y="136" width="1" height="5" fill="#22ab94"/><rect x="936" y="165" width="1" height="2" fill="#22ab94"/><rect x="935.5" y="141.5" width="2" height="23" fill="none" stroke="#008f00"/><rect x="941" y="127" width="1" height="4" fill="#22ab94"/><rect x="941" y="139" width="1" height="4" fill="#22ab94"/><rect x="940.5" y="131.5" width="2" height="7" fill="none" stroke="#008f00"/><rect x="946" y="116" width="1" height="2" fill="#22ab94"/><rect x="946" y="129" width="1" height="2" fill="#22ab94"/><rect x="945.5" y="118.5" width="2" height="10" fill="none" stroke="#008f00"/><rect x="952" y="89" width="1" height="4" fill="#22ab94"/><rect x="952" y="117" width="1" height="4" fill="#22ab94"/><rect x="951.5" y="93.5" width="2" height="23" fill="none" stroke="#008f00"/><rect x="957" y="86" width="1" height="7" fill="#f5414f"/><rect x="957" y="107" width="1" height="1" fill="#f5414f"/><rect x="956" y="93" width="3" height="14" fill="#f5414f"/><rect x="957" y="94" width="1" height="12" fill="#008f00"/><rect x="963" y="99" width="1" height="3" fill="#f5414f"/><rect x="963" y="115" width="1" height="8" fill="#f5414f"/><rect x="962" y="102" width="3" height="13" fill="#f5414f"/><rect x="963" y="103" width="1" height="11" fill="#008f00"/><rect x="968" y="100" width="1" height="8" fill="#22ab94"/><rect x="968" y="117" width="1" height="4" fill="#22ab94"/><rect x="967.5" y="108.5" width="2" height="8" fill="none" stroke="#008f00"/><rect x="973" y="102" width="1" height="8" fill="#f5414f"/><rect x="973" y="131" width="1" height="6" fill="#f5414f"/><rect x="972" y="110" width="3" height="21" fill="#f5414f"/><rect x="973" y="111" width="1" height="19" fill="#008f00"/><rect x="979" y="114" width="1" height="6" fill="#22ab94"/><rect x="978.5" y="120.5" width="2" height="8" fill="none" stroke="#008f00"/><rect x="984" y="112" width="1" height="1" fill="#22ab94"/><rect x="984" y="121" width="1" height="11" fill="#22ab94"/><rect x="983.5" y="113.5" width="2" height="7" fill="none" stroke="#ff0d0d"/><rect x="990" y="111" width="1" height="2" fill="#f5414f"/><rect x="989" y="113" width="3" height="26" fill="#f5414f"/><rect x="990" y="114" width="1" height="24" fill="#ff0d0d"/><rect x="995" y="124" width="1" height="1" fill="#22ab94"/><rect x="995" y="137" width="1" height="7" fill="#22ab94"/><rect x="994.5" y="125.5" width="2" height="11" fill="none" stroke="#ff0d0d"/><rect x="1001" y="148" width="1" height="7" fill="#f5414f"/><rect x="1000" y="127" width="3" height="21" fill="#f5414f"/><rect x="1001" y="128" width="1" height="19" fill="#ff0d0d"/><rect x="1006" y="138" width="1" height="6" fill="#f5414f"/><rect x="1006" y="161" width="1" height="1" fill="#f5414f"/><rect x="1005" y="144" width="3" height="17" fill="#f5414f"/><rect x="1006" y="145" width="1" height="15" fill="#ff0d0d"/><rect x="1011" y="141" width="1" height="7" fill="#22ab94"/><rect x="1010.5" y="148.5" width="2" height="13" fill="none" stroke="#ff0d0d"/><rect x="1017" y="129" width="1" height="4" fill="#22ab94"/><rect x="1016.5" y="133.5" width="2" height="12" fill="none" stroke="#ff0d0d"/><rect x="1022" y="127" width="1" height="2" fill="#f5414f"/><rect x="1021" y="129" width="3" height="14" fill="#f5414f"/><rect x="1022" y="130" width="1" height="12" fill="#ff0d0d"/><rect x="1028" y="135" width="1" height="3" fill="#22ab94"/><rect x="1028" y="147" width="1" height="5" fill="#22ab94"/><rect x="1027.5" y="138.5" width="2" height="8" fill="none" stroke="#ff0d0d"/><rect x="1033" y="111" width="1" height="14" fill="#22ab94"/><rect x="1033" y="135" width="1" height="1" fill="#22ab94"/><rect x="1032.5" y="125.5" width="2" height="9" fill="none" stroke="#ff0d0d"/><rect x="1038" y="124" width="1" height="2" fill="#22ab94"/><rect x="1038" y="131" width="1" height="12" fill="#22ab94"/><rect x="1037.5" y="126.5" width="2" height="4" fill="none" stroke="#ff0d0d"/><rect x="1044" y="113" width="1" height="13" fill="#f5414f"/><rect x="1044" y="154" width="1" height="4" fill="#f5414f"/><rect x="1043" y="126" width="3" height="28" fill="#f5414f"/><rect x="1044" y="127" width="1" height="26" fill="#ff0d0d"/><rect x="1049" y="143" width="1" height="2" fill="#22ab94"/><rect x="1049" y="167" width="1" height="5" fill="#22ab94"/><rect x="1048.5" y="145.5" width="2" height="21" fill="none" stroke="#ff0d0d"/><rect x="1055" y="135" width="1" height="3" fill="#22ab94"/><rect x="1055" y="144" width="1" height="14" fill="#22ab94"/><rect x="1054.5" y="138.5" width="2" height="5" fill="none" stroke="#ff0d0d"/><rect x="1060" y="129" width="1" height="8" fill="#f5414f"/><rect x="1060" y="141" width="1" height="10" fill="#f5414f"/><rect x="1059" y="137" width="3" height="4" fill="#f5414f"/><rect x="1060" y="138" width="1" height="2" fill="#ff0d0d"/><rect x="1066" y="128" width="1" height="4" fill="#22ab94"/><rect x="1066" y="134" width="1" height="11" fill="#22ab94"/><rect x="1065" y="132" width="3" height="2" fill="#008f00"/><rect x="1071" y="142" width="1" height="1" fill="#f5414f"/><rect x="1070" y="143" width="3" height="27" fill="#f5414f"/><rect x="1071" y="144" width="1" height="25" fill="#ff0d0d"/><rect x="1076" y="159" width="1" height="7" fill="#f5414f"/><rect x="1076" y="172" width="1" height="16" fill="#f5414f"/><rect x="1075" y="166" width="3" height="6" fill="#f5414f"/><rect x="1076" y="167" width="1" height="4" fill="#ff0d0d"/><rect x="1082" y="142" width="1" height="8" fill="#22ab94"/><rect x="1082" y="168" width="1" height="1" fill="#22ab94"/><rect x="1081.5" y="150.5" width="2" height="17" fill="none" stroke="#ff0d0d"/><rect x="1087" y="135" width="1" height="13" fill="#f5414f"/><rect x="1087" y="157" width="1" height="12" fill="#f5414f"/><rect x="1086" y="148" width="3" height="9" fill="#f5414f"/><rect x="1087" y="149" width="1" height="7" fill="#ff0d0d"/><rect x="1093" y="113" width="1" height="2" fill="#22ab94"/><rect x="1093" y="158" width="1" height="2" fill="#22ab94"/><rect x="1092.5" y="115.5" width="2" height="42" fill="none" stroke="#008f00"/><rect x="1098" y="108" width="1" height="4" fill="#f5414f"/><rect x="1098" y="119" width="1" height="16" fill="#f5414f"/><rect x="1097" y="112" width="3" height="7" fill="#f5414f"/><rect x="1098" y="113" width="1" height="5" fill="#008f00"/><rect x="1103" y="116" width="1" height="6" fill="#f5414f"/><rect x="1103" y="136" width="1" height="2" fill="#f5414f"/><rect x="1102" y="122" width="3" height="14" fill="#f5414f"/><rect x="1103" y="123" width="1" height="12" fill="#008f00"/><rect x="1109" y="128" width="1" height="2" fill="#f5414f"/><rect x="1109" y="140" width="1" height="2" fill="#f5414f"/><rect x="1108" y="130" width="3" height="10" fill="#f5414f"/><rect x="1109" y="131" width="1" height="8" fill="#008f00"/><rect x="1114" y="135" width="1" height="15" fill="#22ab94"/><rect x="1113" y="150" width="3" height="2" fill="#008f00"/><rect x="1120" y="107" width="1" height="4" fill="#22ab94"/><rect x="1119.5" y="111.5" width="2" height="35" fill="none" stroke="#008f00"/><rect x="1125" y="98" width="1" height="6" fill="#22ab94"/><rect x="1125" y="113" width="1" height="3" fill="#22ab94"/><rect x="1124.5" y="104.5" width="2" height="8" fill="none" stroke="#008f00"/><rect x="1131" y="82" width="1" height="5" fill="#22ab94"/><rect x="1131" y="101" width="1" height="2" fill="#22ab94"/><rect x="1130.5" y="87.5" width="2" height="13" fill="none" stroke="#008f00"/><rect x="1136" y="84" width="1" height="3" fill="#f5414f"/><rect x="1136" y="101" width="1" height="3" fill="#f5414f"/><rect x="1135" y="87" width="3" height="14" fill="#f5414f"/><rect x="1136" y="88" width="1" height="12" fill="#008f00"/><rect x="1140" y="99" width="3" height="32" fill="#f5414f"/><rect x="1141" y="100" width="1" height="30" fill="#008f00"/><rect x="1147" y="121" width="1" height="3" fill="#f5414f"/><rect x="1146" y="124" width="3" height="19" fill="#f5414f"/><rect x="1147" y="125" width="1" height="17" fill="#ff0d0d"/><rect x="1152" y="178" width="1" height="5" fill="#f5414f"/><rect x="1151" y="143" width="3" height="35" fill="#f5414f"/><rect x="1152" y="144" width="1" height="33" fill="#ff0d0d"/><rect x="1158" y="162" width="1" height="6" fill="#22ab94"/><rect x="1158" y="179" width="1" height="2" fill="#22ab94"/><rect x="1157.5" y="168.5" width="2" height="10" fill="none" stroke="#ff0d0d"/><rect x="1163" y="146" width="1" height="2" fill="#22ab94"/><rect x="1163" y="170" width="1" height="3" fill="#22ab94"/><rect x="1162.5" y="148.5" width="2" height="21" fill="none" stroke="#ff0d0d"/><rect x="1169" y="130" width="1" height="12" fill="#22ab94"/><rect x="1169" y="148" width="1" height="5" fill="#22ab94"/><rect x="1168.5" y="142.5" width="2" height="5" fill="none" stroke="#ff0d0d"/><rect x="1174" y="102" width="1" height="2" fill="#22ab94"/><rect x="1173.5" y="104.5" width="2" height="36" fill="none" stroke="#ff0d0d"/><rect x="1179" y="104" width="1" height="2" fill="#f5414f"/><rect x="1178" y="106" width="3" height="18" fill="#f5414f"/><rect x="1179" y="107" width="1" height="16" fill="#ff0d0d"/><rect x="1185" y="123" width="1" height="1" fill="#f5414f"/><rect x="1184" y="124" width="3" height="25" fill="#f5414f"/><rect x="1185" y="125" width="1" height="23" fill="#ff0d0d"/><rect x="1190" y="124" width="1" height="17" fill="#22ab94"/><rect x="1190" y="149" width="1" height="4" fill="#22ab94"/><rect x="1189.5" y="141.5" width="2" height="7" fill="none" stroke="#ff0d0d"/><rect x="1196" y="118" width="1" height="13" fill="#22ab94"/><rect x="1196" y="138" width="1" height="5" fill="#22ab94"/><rect x="1195.5" y="131.5" width="2" height="6" fill="none" stroke="#008f00"/><rect x="1201" y="110" width="1" height="15" fill="#22ab94"/><rect x="1201" y="130" width="1" height="2" fill="#22ab94"/><rect x="1200.5" y="125.5" width="2" height="4" fill="none" stroke="#008f00"/><rect x="1206" y="121" width="1" height="3" fill="#22ab94"/><rect x="1206" y="126" width="1" height="14" fill="#22ab94"/><rect x="1205" y="124" width="3" height="2" fill="#008f00"/><rect x="1212" y="118" width="1" height="4" fill="#f5414f"/><rect x="1212" y="150" width="1" height="22" fill="#f5414f"/><rect x="1211" y="122" width="3" height="28" fill="#f5414f"/><rect x="1212" y="123" width="1" height="26" fill="#008f00"/><rect x="1217" y="131" width="1" height="2" fill="#22ab94"/><rect x="1217" y="147" width="1" height="7" fill="#22ab94"/><rect x="1216.5" y="133.5" width="2" height="13" fill="none" stroke="#008f00"/><rect x="1223" y="107" width="1" height="7" fill="#22ab94"/><rect x="1222.5" y="114.5" width="2" height="20" fill="none" stroke="#008f00"/><rect x="1228" y="93" width="1" height="18" fill="#22ab94"/><rect x="1227" y="111" width="3" height="2" fill="#008f00"/><rect x="1234" y="97" width="1" height="14" fill="#f5414f"/><rect x="1233" y="111" width="3" height="95" fill="#f5414f"/><rect x="1234" y="112" width="1" height="93" fill="#ff0d0d"/><rect x="1239" y="173" width="1" height="30" fill="#22ab94"/><rect x="1239" y="223" width="1" height="10" fill="#22ab94"/><rect x="1238.5" y="203.5" width="2" height="19" fill="none" stroke="#ff0d0d"/><rect x="1244" y="176" width="1" height="9" fill="#22ab94"/><rect x="1244" y="192" width="1" height="15" fill="#22ab94"/><rect x="1243.5" y="185.5" width="2" height="6" fill="none" stroke="#ff0d0d"/><rect x="1250" y="175" width="1" height="4" fill="#22ab94"/><rect x="1250" y="195" width="1" height="11" fill="#22ab94"/><rect x="1249.5" y="179.5" width="2" height="15" fill="none" stroke="#ff0d0d"/><rect x="1255" y="173" width="1" height="6" fill="#f5414f"/><rect x="1255" y="184" width="1" height="15" fill="#f5414f"/><rect x="1254" y="179" width="3" height="5" fill="#f5414f"/><rect x="1255" y="180" width="1" height="3" fill="#ff0d0d"/><rect x="1261" y="176" width="1" height="3" fill="#22ab94"/><rect x="1261" y="191" width="1" height="5" fill="#22ab94"/><rect x="1260.5" y="179.5" width="2" height="11" fill="none" stroke="#ff0d0d"/><rect x="1266" y="151" width="1" height="7" fill="#22ab94"/><rect x="1266" y="160" width="1" height="8" fill="#22ab94"/><rect x="1265" y="158" width="3" height="2" fill="#ff0d0d"/><rect x="1271" y="184" width="1" height="6" fill="#f5414f"/><rect x="1270" y="162" width="3" height="22" fill="#f5414f"/><rect x="1271" y="163" width="1" height="20" fill="#ff0d0d"/><rect x="1277" y="172" width="1" height="6" fill="#f5414f"/><rect x="1277" y="187" width="1" height="2" fill="#f5414f"/><rect x="1276" y="178" width="3" height="9" fill="#f5414f"/><rect x="1277" y="179" width="1" height="7" fill="#ff0d0d"/><rect x="1282" y="166" width="1" height="7" fill="#22ab94"/><rect x="1282" y="175" width="1" height="9" fill="#22ab94"/><rect x="1281" y="173" width="3" height="2" fill="#008f00"/><rect x="1288" y="136" width="1" height="3" fill="#22ab94"/><rect x="1288" y="172" width="1" height="2" fill="#22ab94"/><rect x="1287.5" y="139.5" width="2" height="32" fill="none" stroke="#008f00"/><rect x="1293" y="130" width="1" height="3" fill="#22ab94"/><rect x="1293" y="142" width="1" height="4" fill="#22ab94"/><rect x="1292.5" y="133.5" width="2" height="8" fill="none" stroke="#008f00"/><rect x="1299" y="125" width="1" height="1" fill="#f5414f"/><rect x="1299" y="155" width="1" height="6" fill="#f5414f"/><rect x="1298" y="126" width="3" height="29" fill="#f5414f"/><rect x="1299" y="127" width="1" height="27" fill="#008f00"/><rect x="1304" y="140" width="1" height="2" fill="#22ab94"/><rect x="1304" y="158" width="1" height="4" fill="#22ab94"/><rect x="1303.5" y="142.5" width="2" height="15" fill="none" stroke="#008f00"/><rect x="1309" y="125" width="1" height="2" fill="#22ab94"/><rect x="1309" y="148" width="1" height="6" fill="#22ab94"/><rect x="1308.5" y="127.5" width="2" height="20" fill="none" stroke="#008f00"/><rect x="1315" y="151" width="1" height="2" fill="#f5414f"/><rect x="1314" y="128" width="3" height="23" fill="#f5414f"/><rect x="1315" y="129" width="1" height="21" fill="#008f00"/><rect x="1320" y="137" width="1" height="4" fill="#22ab94"/><rect x="1320" y="151" width="1" height="6" fill="#22ab94"/><rect x="1319.5" y="141.5" width="2" height="9" fill="none" stroke="#008f00"/><rect x="1326" y="128" width="1" height="9" fill="#f5414f"/><rect x="1326" y="153" width="1" height="2" fill="#f5414f"/><rect x="1325" y="137" width="3" height="16" fill="#f5414f"/><rect x="1326" y="138" width="1" height="14" fill="#008f00"/><rect x="1331" y="145" width="1" height="8" fill="#f5414f"/><rect x="1331" y="159" width="1" height="2" fill="#f5414f"/><rect x="1330" y="153" width="3" height="6" fill="#f5414f"/><rect x="1331" y="154" width="1" height="4" fill="#008f00"/><rect x="1336" y="145" width="1" height="7" fill="#22ab94"/><rect x="1336" y="157" width="1" height="5" fill="#22ab94"/><rect x="1335.5" y="152.5" width="2" height="4" fill="none" stroke="#008f00"/><rect x="1342" y="133" width="1" height="1" fill="#22ab94"/><rect x="1342" y="157" width="1" height="2" fill="#22ab94"/><rect x="1341.5" y="134.5" width="2" height="22" fill="none" stroke="#008f00"/><rect x="1347" y="117" width="1" height="2" fill="#22ab94"/><rect x="1347" y="138" width="1" height="1" fill="#22ab94"/><rect x="1346.5" y="119.5" width="2" height="18" fill="none" stroke="#008f00"/><rect x="1353" y="116" width="1" height="4" fill="#f5414f"/><rect x="1353" y="142" width="1" height="1" fill="#f5414f"/><rect x="1352" y="120" width="3" height="22" fill="#f5414f"/><rect x="1353" y="121" width="1" height="20" fill="#008f00"/><rect x="1358" y="122" width="1" height="9" fill="#22ab94"/><rect x="1358" y="140" width="1" height="6" fill="#22ab94"/><rect x="1357.5" y="131.5" width="2" height="8" fill="none" stroke="#008f00"/></g>
<line x1="10" y1="131.5" x2="1415" y2="131.5" stroke="#008f00" stroke-dasharray="1 2" shape-rendering="crispEdges"/>
</g>
<g clip-path="url(#cp2)">
<line x1="36.5" y1="582" x2="36.5" y2="668" stroke="#242733"/>
<line x1="177.5" y1="582" x2="177.5" y2="668" stroke="#242733"/>
<line x1="318.5" y1="582" x2="318.5" y2="668" stroke="#242733"/>
<line x1="459.5" y1="582" x2="459.5" y2="668" stroke="#242733"/>
<line x1="600.5" y1="582" x2="600.5" y2="668" stroke="#242733"/>
<line x1="741.5" y1="582" x2="741.5" y2="668" stroke="#242733"/>
<line x1="881.5" y1="582" x2="881.5" y2="668" stroke="#242733"/>
<line x1="1022.5" y1="582" x2="1022.5" y2="668" stroke="#242733"/>
<line x1="1169.5" y1="582" x2="1169.5" y2="668" stroke="#242733"/>
<line x1="1309.5" y1="582" x2="1309.5" y2="668" stroke="#242733"/>
<line x1="10" y1="594.5" x2="1415" y2="594.5" stroke="#242733"/>
<line x1="10" y1="640.5" x2="1415" y2="640.5" stroke="#242733"/>
<line x1="10" y1="640.5" x2="1415" y2="640.5" stroke="#8e0c9e" stroke-dasharray="5 6" shape-rendering="crispEdges"/>
<polyline points="10.5,649.5 18.0,645.5 28.0,640.8 35.5,637.0 45.5,631.3 58.0,625.8 65.5,623.3 75.5,620.8 83.1,618.8 90.6,615.8 100.6,613.3 110.6,612.0 118.1,611.8 128.1,612.0 135.6,612.5 143.1,614.3 150.6,615.8 160.6,617.5 170.6,618.3 180.6,619.0 188.1,620.5 198.1,624.3 208.1,628.3 218.1,633.0 225.6,636.3 233.2,639.3 240.7,640.5 248.2,640.0 255.7,638.0 263.2,635.5 270.7,632.0 280.7,628.0 288.2,625.5 295.7,624.3 303.2,624.0 310.7,624.5 318.2,625.0 325.7,624.8 333.2,624.3 340.7,622.5 348.2,619.5 355.7,616.8 363.2,612.5 370.0,608.3 370.7,608.0 377.5,604.5 378.0,603.8 385.0,600.5 392.5,597.5 397.5,596.3 405.0,595.8 412.5,595.5 420.0,595.5 427.5,595.5 437.5,595.5 442.5,597.0 450.1,601.3 460.1,608.0 470.1,615.0 480.1,622.0 487.6,628.0 495.1,633.5 502.6,636.5 510.1,637.0 520.1,636.5 530.1,634.3 540.1,631.8 547.6,628.8 557.6,623.8 567.6,619.0 577.6,614.5 585.1,612.0 595.2,610.3 602.7,610.5 610.2,612.0 617.7,614.3 625.2,617.5 632.7,620.8 640.2,622.8 647.7,625.0 655.2,628.3 662.7,632.5 670.2,636.3 677.7,639.0 685.2,641.3 692.7,643.3 700.2,645.5 707.7,647.0 715.2,647.0 722.7,646.5 730.0,646.5 730.2,647.0 737.5,647.5 740.0,648.0 745.0,648.0 752.5,647.5 760.0,645.5 767.5,642.5 775.0,638.8 782.5,635.5 790.0,631.3 797.5,627.5 805.1,623.8 812.6,620.8 820.1,619.5 827.6,620.0 835.1,621.8 842.6,624.5 850.1,627.5 857.6,631.3 865.1,634.8 872.6,637.3 880.1,640.0 887.6,642.5 895.1,644.3 902.6,645.0 910.1,645.0 917.6,644.3 925.1,643.0 932.6,641.3 940.1,638.8 947.6,634.5 955.2,629.3 962.7,624.5 970.2,620.0 977.7,617.0 985.2,615.0 992.7,614.3 1000.2,614.5 1007.7,617.5 1015.2,621.3 1022.7,625.0 1030.2,628.3 1037.7,631.3 1045.2,633.8 1052.7,636.0 1060.2,637.5 1067.7,638.5 1075.2,639.5 1082.7,640.5 1090.0,641.3 1090.2,641.3 1097.5,641.5 1100.0,641.3 1105.0,641.0 1115.0,640.3 1125.0,639.5 1131.3,637.5 1137.5,635.0 1143.8,633.3 1150.0,632.3 1156.3,633.3 1162.5,634.5 1168.8,635.5 1175.1,635.8 1182.6,636.8 1190.1,638.8 1197.6,640.5 1205.1,641.5 1212.6,641.0 1220.1,639.5 1227.6,638.3 1235.1,640.0 1242.6,642.5 1250.1,644.5 1257.6,646.5 1265.1,648.8 1272.6,650.8 1280.1,652.5 1287.6,654.8 1293.9,654.1 1300.1,652.3 1307.6,648.8 1315.2,645.5 1322.7,642.5 1330.2,640.3 1337.7,638.3 1345.2,636.0 1351.4,634.3 1357.7,633.5" fill="none" stroke="#a00f1b" stroke-width="1.4" stroke-linejoin="round"/>
<polyline points="10.5,629.5 14.3,626.3 19.3,625.0 25.5,625.5 30.5,626.3 35.5,623.8 43.0,620.5 46.8,620.0 53.0,623.0 58.0,622.0 65.5,618.8 73.0,615.0 79.3,609.5 85.1,604.0 90.6,605.8 95.6,606.3 101.8,608.8 108.1,612.5 115.6,617.5 121.8,620.5 128.1,618.0 134.3,616.8 140.6,618.0 145.1,618.8 150.6,616.3 155.6,616.8 160.6,618.8 168.1,618.3 174.4,620.0 180.6,625.0 186.9,632.5 193.1,636.3 200.6,638.0 205.6,640.0 210.6,644.0 215.6,643.8 220.6,644.3 226.9,644.8 231.9,643.0 238.2,638.8 245.7,631.3 251.9,625.8 258.2,621.3 268.2,618.8 274.4,618.8 280.7,623.0 288.2,625.5 294.4,626.5 298.2,627.5 303.2,630.0 312.0,631.3 318.2,625.0 323.2,619.0 328.2,617.5 335.7,612.0 344.5,603.0 350.7,603.0 355.7,603.8 363.2,597.0 368.2,594.3 370.0,594.5 373.2,594.5 373.8,593.8 378.0,591.3 378.8,591.3 383.8,591.3 388.8,590.5 393.8,590.8 397.5,593.8 405.0,601.8 410.0,598.8 415.0,599.5 421.3,600.5 426.3,595.0 432.5,591.8 437.0,591.0 442.5,607.5 447.6,621.3 452.6,630.0 458.8,638.8 463.8,646.3 470.1,648.8 475.1,642.5 480.1,644.0 485.1,640.0 490.1,635.5 496.3,628.3 502.6,626.8 507.6,626.3 512.6,627.5 517.6,635.5 524.6,641.3 530.1,633.8 535.1,631.8 540.1,623.0 545.1,615.8 550.1,608.8 555.1,601.3 560.1,599.3 565.1,598.8 570.1,600.0 573.9,602.0 577.6,611.3 582.6,618.3 587.6,619.3 595.2,620.5 600.2,621.8 605.2,620.0 611.4,619.0 616.4,618.3 621.4,623.3 626.4,623.5 631.4,629.3 636.4,633.3 641.4,634.0 647.7,640.0 653.9,650.0 658.9,654.3 666.5,650.8 671.5,646.3 676.5,641.3 681.5,639.5 686.5,638.8 691.5,642.5 696.5,647.0 702.7,649.5 709.0,652.0 714.0,652.5 720.2,650.0 725.2,648.8 730.0,650.8 730.2,650.8 735.0,647.5 735.2,648.0 740.0,646.5 741.3,645.5 747.5,641.3 755.0,634.5 762.5,628.0 767.5,623.3 772.5,620.8 777.5,620.5 782.5,618.3 788.8,615.0 794.5,613.8 800.0,615.8 806.3,616.8 810.1,622.5 816.3,623.0 822.6,623.3 826.3,629.3 832.6,632.5 837.6,638.8 842.6,640.3 847.6,641.3 853.8,642.5 860.1,646.3 865.1,646.3 871.3,644.5 877.6,644.3 882.6,643.5 887.6,644.5 892.6,647.5 897.6,646.3 902.6,645.0 907.6,644.5 912.6,642.5 920.1,639.0 930.1,633.0 937.6,626.3 945.1,617.5 951.4,609.5 956.4,606.5 961.4,606.5 967.7,608.0 972.7,612.0 977.7,614.0 983.9,616.3 990.2,621.3 995.2,623.5 1000.2,627.5 1006.4,635.0 1011.4,637.5 1017.7,637.5 1025.2,638.3 1030.2,637.0 1036.5,635.5 1041.5,637.5 1046.5,640.0 1052.7,640.0 1059.0,639.5 1065.2,639.3 1070.2,643.0 1076.5,647.5 1081.5,647.0 1086.5,646.5 1090.0,642.0 1091.5,641.3 1093.8,638.0 1096.5,636.3 1098.8,635.3 1100.0,635.0 1105.0,635.3 1110.0,636.5 1115.0,638.3 1121.3,633.0 1126.3,628.3 1131.3,624.0 1136.3,622.5 1140.0,626.3 1146.3,631.8 1151.3,640.0 1156.3,645.5 1161.3,648.0 1167.6,647.5 1170.1,646.3 1175.1,638.8 1180.1,637.8 1186.3,640.0 1192.6,640.0 1200.1,638.0 1206.3,637.5 1212.6,640.0 1217.6,638.8 1222.6,635.5 1227.6,633.3 1232.6,643.8 1238.9,656.3 1245.1,659.6 1252.6,660.1 1260.1,659.1 1266.4,654.6 1272.6,654.6 1280.1,655.1 1286.4,649.5 1292.6,640.0 1298.9,639.0 1303.9,636.3 1308.9,632.0 1315.2,633.0 1320.2,632.8 1326.4,634.5 1332.7,636.8 1338.9,635.5 1346.4,630.8 1352.7,631.3 1357.7,631.0" fill="none" stroke="#1010a0" stroke-width="1.4" stroke-linejoin="round"/>
</g>
<line x1="10" y1="581.5" x2="1469" y2="581.5" stroke="#2e3240"/>
<text x="10.3" y="19" font-size="12" font-weight="bold" fill="#dedede" textLength="353.9" lengthAdjust="spacingAndGlyphs">idynamics created with TradingView.com, Sep 14, 2025 01:20 UTC</text>
<g font-size="12" fill="#b2b5be">
<text x="18" y="46" textLength="264.7" lengthAdjust="spacingAndGlyphs">Energy Select Sector SPDR Fund · 1W · NYSE Arca</text><text x="289.8" y="46" textLength="37.5" lengthAdjust="spacingAndGlyphs">O<tspan fill="#129e87">87.65</tspan></text><text x="334.9" y="46" textLength="37.3" lengthAdjust="spacingAndGlyphs">H<tspan fill="#129e87">89.90</tspan></text><text x="379.8" y="46" textLength="35.0" lengthAdjust="spacingAndGlyphs">L<tspan fill="#129e87">86.39</tspan></text><text x="422.4" y="46" textLength="36.6" lengthAdjust="spacingAndGlyphs">C<tspan fill="#129e87">88.60</tspan></text><text x="467.1" y="46" textLength="77.1" lengthAdjust="spacingAndGlyphs"><tspan fill="#129e87">+1.24 (+1.42%)</tspan></text>
</g>
<g font-size="12" fill="#b2b5be" stroke="#b2b5be" stroke-width="0.25">
<text x="1424" y="578.0">25.00</text><text x="1424" y="544.0">30.00</text><text x="1424" y="509.0">35.00</text><text x="1424" y="474.0">40.00</text><text x="1424" y="440.0">45.00</text><text x="1424" y="405.0">50.00</text><text x="1424" y="370.0">55.00</text><text x="1424" y="335.0">60.00</text><text x="1424" y="300.0">65.00</text><text x="1424" y="265.0">70.00</text><text x="1424" y="230.0">75.00</text><text x="1424" y="196.0">80.00</text><text x="1424" y="161.0">85.00</text><text x="1424" y="126.0">90.00</text><text x="1424" y="91.0">95.00</text><text x="1424" y="599.0">4.00</text><text x="1424" y="644">0.0000</text>
<text x="36.5" y="686" text-anchor="middle" font-weight="bold">2021</text><text x="177.5" y="686" text-anchor="middle" font-weight="normal">Jul</text><text x="318.5" y="686" text-anchor="middle" font-weight="bold">2022</text><text x="459.5" y="686" text-anchor="middle" font-weight="normal">Jul</text><text x="600.5" y="686" text-anchor="middle" font-weight="bold">2023</text><text x="741.5" y="686" text-anchor="middle" font-weight="normal">Jul</text><text x="881.5" y="686" text-anchor="middle" font-weight="bold">2024</text><text x="1022.5" y="686" text-anchor="middle" font-weight="normal">Jul</text><text x="1169.5" y="686" text-anchor="middle" font-weight="bold">2025</text><text x="1309.5" y="686" text-anchor="middle" font-weight="normal">Jul</text>
</g>
<rect x="1419" y="31" width="46" height="26" rx="5" fill="#0f0f0f" stroke="#3a3a3a"/>
<text x="1427.6" y="48.8" font-size="12.5" font-weight="bold" fill="#dadada" textLength="21.3" lengthAdjust="spacingAndGlyphs">USD</text>
<path d="M1416 123H1457Q1459 123 1459 125V138Q1459 140 1457 140H1416Z" fill="#008000"/>
<text x="1424" y="136" font-size="12" font-weight="bold" fill="#ffffff" textLength="29.8" lengthAdjust="spacingAndGlyphs">88.60</text>
<g fill="#dcdcdc">
<path d="M12 718H24V733H18V724H12Z"/>
<circle cx="28.9" cy="721" r="2.95"/>
<path d="M35.2 718H42L36.1 733H29.1Z"/>
<text x="48.9" y="733" font-size="20.6" font-weight="bold" textLength="121" lengthAdjust="spacingAndGlyphs">TradingView</text>
</g>
</svg>
</body></html>
